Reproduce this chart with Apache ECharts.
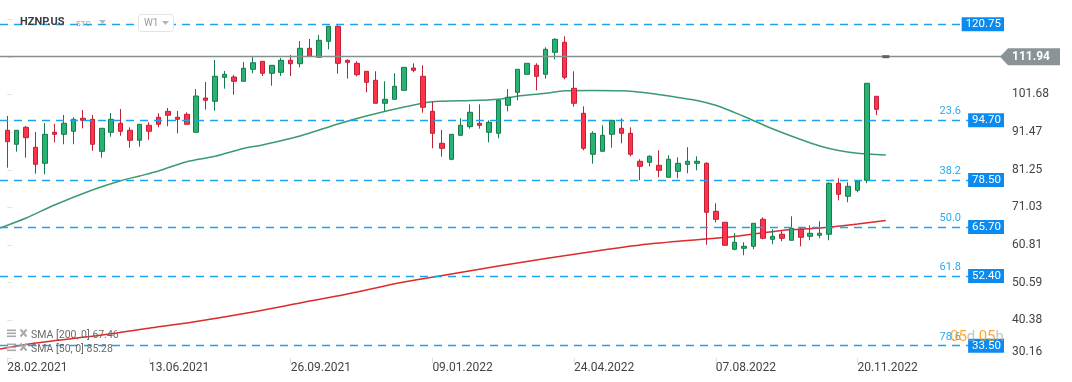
<!DOCTYPE html>
<html>
<head>
<meta charset="utf-8">
<script src="https://cdn.jsdelivr.net/npm/echarts@6/dist/echarts.min.js"></script>
<style>
html,body{margin:0;padding:0;background:#fff;}
#chart{width:1072px;height:382px;}
</style>
</head>
<body>
<div id="chart"></div>
<script>
// ---- data (weekly candles, index 0 = week of 28.02.2021) ----
const ohlc = [ // [open, close, low, high]
[91.96,88.87,81.81,95.84],[88.16,91.96,86.15,92.0],[92.77,89.95,84.52,93.13],[87.35,82.73,80.18,91.5],
[83.0,90.87,80.02,93.94],[91.42,90.87,88.7,93.67],[90.87,93.86,88.16,96.11],[91.69,94.94,88.16,95.49],
[95.22,94.68,92.5,97.47],[94.94,88.16,86.42,96.11],[86.26,92.5,84.52,92.5],[91.42,94.94,90.22,96.65],
[93.86,91.69,90.49,97.74],[91.96,89.25,87.24,92.77],[89.25,93.59,87.51,93.59],[93.32,91.69,89.41,94.13],
[95.49,93.59,92.77,96.57],[97.11,96.03,93.04,98.01],[95.49,94.94,91.14,97.2],[96.3,93.59,93.59,96.84],
[91.42,101.27,91.42,103.17],[100.72,100.1,97.55,105.07],[99.83,106.61,97.28,111.04],[106.34,107.16,103.25,108.05],
[106.42,105.26,101.62,106.97],[105.26,108.78,105.26,110.5],[108.51,110.3,107.43,111.93],[110.68,107.43,106.7,110.7],
[107.43,109.6,104.06,109.6],[107.7,110.95,106.7,111.58],[110.95,110.03,106.7,112.39],[110.03,114.21,109.05,116.19],
[114.21,112.04,112.04,116.74],[111.77,116.38,111.77,117.82],[116.11,120.18,113.94,120.18],[120.18,110.14,107.32,120.45],
[110.95,110.41,105.97,111.23],[110.14,107.05,106.61,110.68],[107.97,104.98,102.27,108.0],[105.53,99.29,99.29,107.97],
[99.29,100.37,97.11,105.26],[100.37,103.9,100.37,107.43],[102.81,109.05,102.81,109.05],[108.86,108.24,107.7,110.14],
[106.61,98.2,96.74,109.6],[97.11,91.14,87.07,99.72],[88.43,87.07,84.8,92.04],[84.09,90.87,83.82,90.87],
[90.6,93.32,90.6,95.22],[92.94,96.84,92.4,99.01],[93.86,93.32,92.4,99.01],[91.42,94.13,88.7,94.67],
[91.14,100.1,89.79,100.1],[98.74,100.91,97.11,103.17],[102.27,108.51,100.1,108.51],[107.16,110.14,107.16,110.14],
[109.6,106.61,102.81,110.14],[107.16,113.94,105.97,114.48],[113.13,116.65,111.23,116.92],[115.84,106.34,105.8,117.47],
[103.36,99.29,98.38,107.97],[96.57,87.07,86.53,98.47],[85.45,91.14,82.9,91.69],[86.26,90.6,86.26,93.32],
[90.87,94.67,87.24,94.67],[92.5,91.14,88.43,95.22],[91.14,85.45,84.9,92.77],[83.55,82.19,78.39,84.09],
[83.27,84.9,82.19,85.17],[82.46,81.1,79.2,86.53],[79.2,84.09,79.2,85.17],[80.83,83.0,78.93,84.63],
[82.73,83.55,80.29,87.35],[83.0,83.55,81.1,84.9],[83.0,69.71,60.91,83.27],[69.98,67.81,67.0,72.15],
[67.0,60.75,60.75,67.0],[59.67,61.57,59.4,64.01],[59.94,60.48,58.04,61.57],[60.48,66.72,59.67,66.72],
[67.81,62.65,62.38,68.35],[62.38,63.19,61.02,65.09],[63.74,62.65,61.84,64.55],[62.11,65.37,62.11,68.62],
[65.09,62.92,60.48,65.64],[63.19,64.01,62.11,66.18],[63.46,64.01,62.65,67.27],[63.74,77.58,62.11,77.85],
[77.58,74.59,72.96,78.93],[74.05,76.76,72.42,77.85],[75.68,78.12,75.13,78.12],[78.39,104.71,77.58,104.71],
[101.19,97.65,96.03,101.19]
];
const sma50 = [ // [week, value]
[-1,65.23],[2,68.16],[5,71.69],[9,75.76],[12,78.28],[14,79.56],[16,80.91],[19,83.44],[22,84.9],[25,87.02],
[27,87.97],[31,90.41],[35,93.67],[38,95.84],[42,98.28],[45,99.72],[48,99.96],[52,100.37],[54,101.21],[57,102.0],
[59,102.71],[62,102.76],[65,102.68],[68,102.0],[71,100.86],[73,100.05],[75,98.74],[78,95.7],[81,92.37],[84,89.44],
[86,87.7],[88,86.48],[90,85.75],[92,85.4],[93,85.28]
];
const sma200 = [ // [week, value]
[-1,32.47],[3,34.24],[10,36.41],[15,38.23],[20,40.07],[26,42.65],[31,45.09],[36,47.54],[42,50.79],[47,52.96],
[52,55.13],[57,57.17],[62,59.07],[67,60.83],[72,62.05],[77,63.14],[82,64.77],[86,65.45],[90,66.53],[93,67.46]
];
const xTickWeeks = [0,15,30,45,60,75,90];
const xTickLabels = ['28.02.2021','13.06.2021','26.09.2021','09.01.2022','24.04.2022','07.08.2022','20.11.2022'];
const yTickLabels = ['30.16','40.38','50.59','60.81','71.03','81.25','91.47','101.68'];
const yTickStart = 30.16, yTickStep = 10.2175;
const fibLevels = [120.75, 94.70, 78.50, 65.70, 52.40, 33.50];
const fibPct = ['0.0','23.6','38.2','50.0','61.8','78.6'];
const lastPrice = 111.94;
const lastWeek = 93;
const legendTexts = ['SMA [200, 0] 67.46','SMA [50, 0] 85.28'];

// ---- chart ----
const XMIN = -0.773, XMAX = 105.62;
const chart = echarts.init(document.getElementById('chart'), null, {renderer:'canvas'});
const FONT = 'Roboto, "Noto Sans", sans-serif';

const fibLines = [];
const badgeLines = [];
fibLevels.forEach((v, k) => {
  fibLines.push({
    yAxis: v,
    lineStyle: {color:'#1aa3ee', width:1.4, type:[8,6]},
    label: {show: k > 0, formatter: fibPct[k], position:'insideEndTop', distance:[44,3],
            color:'#2aa8ee', fontSize:11, fontFamily:FONT}
  });
  badgeLines.push({
    yAxis: v,
    label: {show:true, formatter: v.toFixed(2), position:'insideEnd', distance:[1,0], verticalAlign:'middle',
            align:'right', color:'#fff', backgroundColor:'#0b8bf0', padding:[1,3,1,4], lineHeight:12,
            fontSize:11.5, fontFamily:FONT}
  });
});
fibLines.push({
  yAxis: lastPrice,
  lineStyle: {color:'#86908f', width:1.3, type:'solid'},
  label: {show:false}
});

const option = {
  animation: false,
  grid: {left:0, right:67, top:0, bottom:24},
  xAxis: {
    type:'value', min:XMIN, max:XMAX,
    splitLine:{show:false}, axisLine:{show:false},
    axisTick:{show:true, length:5, lineStyle:{color:'#dddddd'}, customValues: xTickWeeks},
    axisLabel:{show:true, customValues: xTickWeeks, align:'left', margin:4, color:'#444',
               fontSize:12, fontFamily:FONT,
               formatter: v => { const k = xTickWeeks.indexOf(Math.round(v)); return k >= 0 ? xTickLabels[k] : ''; }}
  },
  yAxis: {
    type:'value', position:'right', min:yTickStart, max:127.32, interval:yTickStep,
    splitLine:{show:false}, axisLine:{show:false},
    axisTick:{show:true, length:5, lineStyle:{color:'#e2e2e2'}},
    axisLabel:{show:true, color:'#444', fontSize:12, fontFamily:FONT, margin:7, showMaxLabel:false,
      formatter: v => {
        const k = Math.round((v - yTickStart) / yTickStep);
        if (Math.abs(v - (yTickStart + k*yTickStep)) > 0.01 || k < 0 || k >= yTickLabels.length) return '';
        return k === 0 ? '{b|' + yTickLabels[k] + '}' : yTickLabels[k];
      },
      rich:{b:{color:'#444', fontSize:12, fontFamily:FONT, padding:[0,0,12,0]}}
    }
  },
  series: [
    {
      type:'line', name:'SMA200', data: sma200, showSymbol:false, smooth:0.3, clip:true,
      lineStyle:{color:'#dd2a2a', width:1.5}, z:3
    },
    {
      type:'line', name:'SMA50', data: sma50, showSymbol:false, smooth:0.3, clip:true,
      lineStyle:{color:'#3c9a70', width:1.5}, z:3
    },
    {
      type:'candlestick', name:'HZNP.US',
      data: ohlc.map((r,i) => [i, r[0], r[1], r[2], r[3]]),
      encode:{x:0, y:[1,2,3,4]},
      barWidth:5, clip:false, z:4,
      itemStyle:{color:'#27b373', color0:'#ff3349', borderColor:'#177a4b', borderColor0:'#bf2139', borderWidth:1}
    },
    {
      type:'line', name:'levels', data:[], clip:false, z:5,
      markLine:{silent:true, symbol:['none','none'], animation:false, data: fibLines},
      markPoint:{silent:true, animation:false, data:[
        {coord:[XMAX, lastPrice], symbol:'path://M0 8L8 0L60 0L60 16L8 16Z', symbolSize:[60,17], symbolOffset:[25,0],
         itemStyle:{color:'#8a9497'},
         label:{show:true, position:'inside', formatter: lastPrice.toFixed(2), color:'#fff', fontWeight:'bold',
                fontSize:12, fontFamily:FONT, offset:[1,0]}},
        {coord:[lastWeek, lastPrice], symbol:'rect', symbolSize:[7,3], itemStyle:{color:'#5d6466'}, label:{show:false}}
      ]}
    },
    {
      type:'line', name:'badges', data:[], clip:false, z:6,
      markLine:{silent:true, symbol:['none','none'], animation:false,
                lineStyle:{color:'rgba(0,0,0,0)', width:1, type:'solid'}, data: badgeLines}
    }
  ],
  graphic: [
    {type:'text', left:20, top:17, z:10, style:{text:'HZNP.US', fill:'#3c4043', font:'bold 11px '+FONT}},
    {type:'text', left:76, top:20, z:10, style:{text:'STC', fill:'#8b9aa5', font:'8px '+FONT}},
    {type:'polygon', z:10, shape:{points:[[99,20],[106,20],[102.5,24]]}, style:{fill:'#b5b5b5'}},
    {type:'rect', z:10, shape:{x:138.5, y:14.5, width:35, height:17, r:3}, style:{fill:'#fff', stroke:'#e3e3e3', lineWidth:1}},
    {type:'text', left:144, top:18, z:11, style:{text:'W1', fill:'#9a9a9a', font:'10px '+FONT}},
    {type:'polygon', z:11, shape:{points:[[162,21],[169,21],[165.5,25]]}, style:{fill:'#b5b5b5'}},
    // legend rows
    {type:'rect', z:10, shape:{x:7,y:329.5,width:9,height:1.6}, style:{fill:'#a8a8a8'}},
    {type:'rect', z:10, shape:{x:7,y:332.5,width:9,height:1.6}, style:{fill:'#a8a8a8'}},
    {type:'rect', z:10, shape:{x:7,y:335.5,width:9,height:1.6}, style:{fill:'#a8a8a8'}},
    {type:'line', z:10, shape:{x1:20.5,y1:329.5,x2:26.5,y2:336.5}, style:{stroke:'#aaa', lineWidth:2}},
    {type:'line', z:10, shape:{x1:26.5,y1:329.5,x2:20.5,y2:336.5}, style:{stroke:'#aaa', lineWidth:2}},
    {type:'text', z:10, x:31, y:335, style:{text:legendTexts[0], fill:'#6a6a6a', font:'10.5px '+FONT, verticalAlign:'middle'}},
    {type:'rect', z:10, shape:{x:7,y:343.5,width:9,height:1.6}, style:{fill:'#a8a8a8'}},
    {type:'rect', z:10, shape:{x:7,y:346.5,width:9,height:1.6}, style:{fill:'#a8a8a8'}},
    {type:'rect', z:10, shape:{x:7,y:349.5,width:9,height:1.6}, style:{fill:'#a8a8a8'}},
    {type:'line', z:10, shape:{x1:20.5,y1:343.5,x2:26.5,y2:350.5}, style:{stroke:'#aaa', lineWidth:2}},
    {type:'line', z:10, shape:{x1:26.5,y1:343.5,x2:20.5,y2:350.5}, style:{stroke:'#aaa', lineWidth:2}},
    {type:'text', z:10, x:31, y:349, style:{text:legendTexts[1], fill:'#6a6a6a', font:'10.5px '+FONT, verticalAlign:'middle'}},
    {type:'text', x:950, y:337, z:12, style:{
      text:'{o|05}{g|d} {o|05}{g|h}', verticalAlign:'middle',
      rich:{o:{fill:'rgba(255,152,20,0.85)', font:'15px '+FONT}, g:{fill:'rgba(170,170,170,0.7)', font:'15px '+FONT}}
    }}
  ]
};
chart.setOption(option);
</script>
</body>
</html>
